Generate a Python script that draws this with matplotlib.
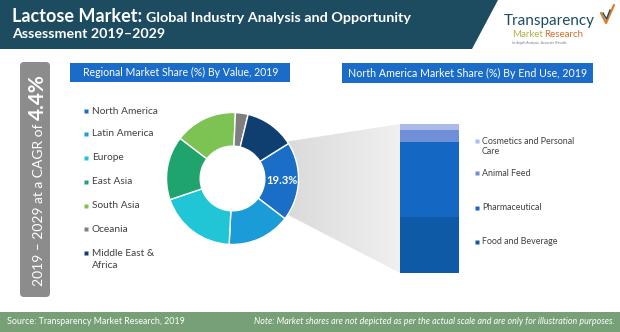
import numpy as np
import matplotlib as mpl
mpl.use('Agg')
import matplotlib.pyplot as plt
from matplotlib.patches import Polygon, Rectangle, FancyBboxPatch

plt.rcParams['font.family'] = ['Lato', 'DejaVu Sans']

# regional share (donut), clockwise from North America
regions = ['North America', 'Latin America', 'Europe', 'East Asia', 'South Asia',
           'Oceania', 'Middle East &\nAfrica']
region_share = [19.3, 15.4, 19.0, 15.6, 15.3, 3.1, 12.3]
region_colors = ['#1a6ec6', '#1b9bd8', '#20c6d6', '#1ea46c', '#7dc353', '#7f7f7f', '#0f3e70']

# north america by end use (stacked bar, bottom to top)
end_uses = ['Food and Beverage', 'Pharmaceutical', 'Animal Feed', 'Cosmetics and Personal\nCare']
na_share = [37.6, 50.3, 8.1, 4.0]
end_use_colors = ['#0e5aa6', '#1467c3', '#6f8fd8', '#a9bbe6']

cagr = '4.4%'
title_big = 'Lactose Market:'
title_small = 'Global Industry Analysis and Opportunity'
title_line2 = 'Assessment 2019\u20132029'

W, H = 620, 332
fig = plt.figure(figsize=(6.2, 3.32), dpi=100)
bg = fig.add_axes([0, 0, 1, 1])
bg.axis('off')
bg.set_xlim(0, W)
bg.set_ylim(H, 0)

teal = '#1d4c61'
blue_box = '#1a6cc8'


def right_edge(t):
    fig.canvas.draw()
    return t.get_window_extent().x1


# header band
bg.add_patch(Polygon([(0, 0), (498, 0), (472, 49), (0, 49)], closed=True, color=teal, lw=0))
t1 = bg.text(12, 22, title_big, color='white', fontsize=13, fontweight='bold', va='baseline')
bg.text(right_edge(t1) + 4, 22, title_small, color='white', fontsize=10.4,
        fontweight='bold', va='baseline')
bg.text(12, 38, title_line2, color='white', fontsize=10.3, fontweight='bold', va='baseline')

# logo
bg.text(504, 25, 'Transparency', color=teal, fontsize=11, va='baseline')
tm = bg.text(512, 37, 'Market', color='#b4b04a', fontsize=7, va='baseline')
bg.text(right_edge(tm) + 1.5, 37, 'Research', color='#d3712c', fontsize=7, va='baseline')
bg.text(512, 44, 'In-depth Analysis. Accurate Results', color='#777777', fontsize=2.5,
        va='baseline')
bg.plot([601, 606, 614], [13, 23, 5], color='#e07b2a', lw=1.6, solid_capstyle='round')
bg.plot([603, 606.5, 610], [13, 19, 10], color=teal, lw=1.0)

# CAGR side box
bg.add_patch(FancyBboxPatch((20, 62), 30, 235, boxstyle='round,pad=0,rounding_size=4',
                            color='#8c8c8c', lw=0))
t2 = bg.text(43, 286, '2019 \u2013 2029 at a CAGR of ', color='white', fontsize=10,
             rotation=90, rotation_mode='anchor', ha='left', va='baseline')
fig.canvas.draw()
top_px = H - t2.get_window_extent().y1
bg.text(43.5, top_px, cagr, color='white', fontsize=15, fontweight='bold',
        rotation=90, rotation_mode='anchor', ha='left', va='baseline')

# section title boxes
bg.add_patch(Rectangle((70, 63), 220, 19, color=blue_box, lw=0))
bg.text(181, 72.5, 'Regional Market Share (%) By Value, 2019', color='white',
        fontsize=7.6, ha='center', va='center')
bg.add_patch(Rectangle((342, 63), 251, 20, color=blue_box, lw=0))
bg.text(467.5, 73, 'North America Market Share (%) By End Use, 2019', color='white',
        fontsize=7.7, ha='center', va='center')

# left legend
leg_y = [111, 134, 158, 182, 206, 229, 253]
for name, c, y in zip(regions, region_colors, leg_y):
    bg.plot(86, y, marker='s', ms=3.4, color=c, mec='none')
    for i, line in enumerate(name.split('\n')):
        bg.text(92, y + i * 13, line, color='#404040', fontsize=7.3, va='center')

# right legend
end_y = [242, 208, 173, 141]
for name, c, y in zip(end_uses, end_use_colors, end_y):
    bg.plot(477, y, marker='s', ms=3.2, color=c, mec='none')
    for i, line in enumerate(name.split('\n')):
        bg.text(482, y + i * 11, line, color='#404040', fontsize=6.4, va='center')

# funnel from donut to bar, with gradient
funnel = Polygon([(265, 145), (400, 124), (400, 273), (265, 203)], closed=True,
                 facecolor='none', lw=0)
bg.add_patch(funnel)
grad = np.linspace(0, 1, 256).reshape(1, -1)
cm = mpl.colors.LinearSegmentedColormap.from_list('g', ['#d6d6d6', '#f0f0f0'])
im = bg.imshow(grad, extent=(265, 400, 273, 124), cmap=cm, aspect='auto', zorder=0.5)
im.set_clip_path(funnel)

# footer
bg.add_patch(Rectangle((0, 312), W, 20, color='#77a077', lw=0))
bg.text(7, 322, 'Source: Transparency Market Research, 2019', color='white', fontsize=6.4,
        va='center')
bg.text(615, 322, 'Note: Market shares are not depicted as per the actual scale and are only '
        'for illustration purposes.', color='white', fontsize=6.4, fontstyle='italic',
        va='center', ha='right')

bg.set_xlim(0, W)
bg.set_ylim(H, 0)

# donut
cx, cy, r = 232.5, 178.5, 66
ax_pie = fig.add_axes([(cx - r) / W, (H - cy - r) / H, 2 * r / W, 2 * r / H])
start = 32
ax_pie.pie(region_share, colors=region_colors, startangle=start, counterclock=False,
           wedgeprops=dict(width=0.51, edgecolor='white', linewidth=1))
mid = np.deg2rad(start - 360 * region_share[0] / 100 / 2)
ax_pie.text(0.745 * np.cos(mid), 0.745 * np.sin(mid), '%.1f%%' % region_share[0],
            color='white', fontsize=8, fontweight='bold', ha='center', va='center')
ax_pie.set_xlim(-1, 1)
ax_pie.set_ylim(-1, 1)
ax_pie.axis('off')

# stacked bar
ax_bar = fig.add_axes([400 / W, (H - 273) / H, 59 / W, 149 / H])
bottom = 0
for v, c in zip(na_share, end_use_colors):
    ax_bar.bar(0, v, bottom=bottom, width=1, color=c, lw=0)
    bottom += v
ax_bar.set_xlim(-0.5, 0.5)
ax_bar.set_ylim(0, bottom)
ax_bar.axis('off')

fig.savefig('out.png', dpi=100)
